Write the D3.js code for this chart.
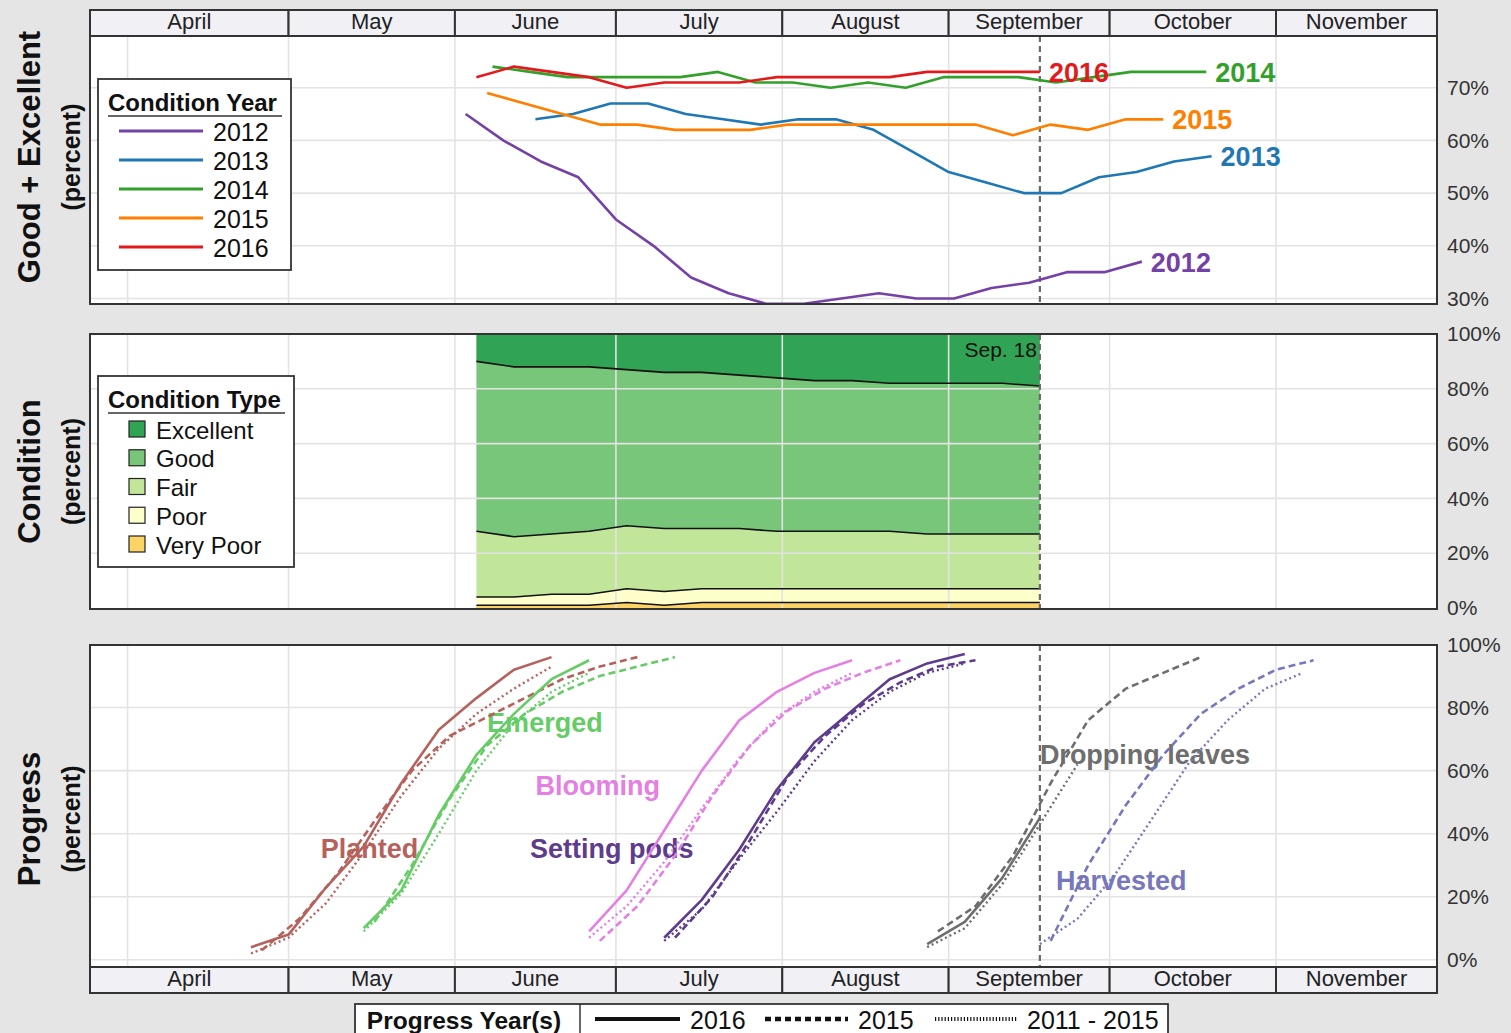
<!DOCTYPE html>
<html>
<head>
<meta charset="utf-8">
<script src="https://cdn.jsdelivr.net/npm/d3@7"></script>
<style>
  body { margin: 0; background: #e5e5e5; }
  svg { display: block; font-family: "Liberation Sans", Arial, Helvetica, sans-serif; }
</style>
</head>
<body>
<svg id="chart" width="1511" height="1033"></svg>
<script>
// ---------------------------------------------------------------------------
// Data
// ---------------------------------------------------------------------------
const monthNames = ["April", "May", "June", "July", "August", "September", "October", "November"];

// Soybean condition, Good + Excellent (%), weekly from the first rating of each year
const conditionYears = ["2012", "2013", "2014", "2015", "2016"];
const conditionStarts = ["2012-06-03", "2013-06-16", "2014-06-08", "2015-06-07", "2016-06-05"];
const ge2012 = [65, 60, 56, 53, 45, 40, 34, 31, 29, 29, 30, 31, 30, 30, 32, 33, 35, 35, 37];
const ge2013 = [64, 65, 67, 67, 65, 64, 63, 64, 64, 62, 58, 54, 52, 50, 50, 53, 54, 56, 57];
const ge2014 = [74, 73, 72, 72, 72, 72, 73, 71, 71, 70, 71, 70, 72, 72, 72, 71, 72, 73, 73, 73];
const ge2015 = [69, 67, 65, 63, 63, 62, 62, 62, 63, 63, 63, 63, 63, 63, 61, 63, 62, 64, 64];
const ge2016 = [72, 74, 73, 72, 70, 71, 71, 71, 72, 72, 72, 72, 73, 73, 73, 73];
const goodExcellent = [ge2012, ge2013, ge2014, ge2015, ge2016];

// 2016 condition breakdown (%), weekly from June 5
const conditionTypes = ["Excellent", "Good", "Fair", "Poor", "Very Poor"];
const condition2016Start = "2016-06-05";
const excellent2016 = [10, 12, 12, 12, 13, 14, 14, 15, 16, 17, 17, 18, 18, 18, 18, 19];
const good2016      = [62, 62, 61, 60, 57, 57, 57, 56, 56, 55, 55, 54, 55, 55, 55, 54];
const fair2016      = [24, 22, 22, 23, 23, 23, 22, 22, 21, 21, 21, 21, 20, 20, 20, 20];
const poor2016      = [3, 3, 4, 4, 5, 5, 5, 5, 5, 5, 5, 5, 5, 5, 5, 5];
const veryPoor2016  = [1, 1, 1, 1, 2, 1, 2, 2, 2, 2, 2, 2, 2, 2, 2, 2];

// Crop progress (% complete), weekly
const stages = ["Planted", "Emerged", "Blooming", "Setting pods", "Dropping leaves", "Harvested"];
const progressYears = ["2016", "2015", "2011 - 2015"];

const progress2016Starts = ["2016-04-24", "2016-05-15", "2016-06-26", "2016-07-10", "2016-08-28", null];
const progress2016 = [
  [4, 8, 23, 36, 56, 73, 83, 92, 96],
  [10, 22, 46, 65, 78, 89, 95],
  [9, 22, 41, 60, 76, 85, 91, 95],
  [7, 19, 35, 54, 69, 79, 89, 94, 97],
  [5, 12, 26, 45],
  []
];

const progress2015Starts = ["2015-04-26", "2015-05-17", "2015-06-28", "2015-07-12", "2015-08-30", "2015-09-20"];
const progress2015 = [
  [3, 13, 27, 44, 60, 71, 77, 83, 89, 93, 96],
  [12, 30, 51, 68, 78, 85, 90, 93, 96],
  [6, 17, 33, 52, 68, 79, 86, 91, 95],
  [7, 20, 38, 58, 71, 81, 88, 93, 95],
  [9, 17, 33, 56, 76, 86, 91, 96],
  [6, 30, 49, 65, 78, 86, 92, 95]
];

const progressAvgStarts = ["2016-04-24", "2016-05-15", "2016-06-26", "2016-07-10", "2016-08-28", "2016-09-18"];
const progressAvg = [
  [2, 7, 18, 34, 52, 67, 78, 86, 93],
  [9, 21, 40, 60, 75, 85, 91],
  [7, 17, 31, 48, 64, 77, 85, 91],
  [6, 16, 32, 47, 63, 76, 85, 91, 94],
  [4, 10, 24, 43, 62],
  [5, 13, 27, 45, 63, 76, 86, 91]
];

const currentWeek = "2016-09-18";
const geTicks = [30, 40, 50, 60, 70];
const pctTicks = [0, 20, 40, 60, 80, 100];

// ---------------------------------------------------------------------------
// Styling
// ---------------------------------------------------------------------------
const yearColors = ["#7442a6", "#1f78b4", "#33a02c", "#ff7f00", "#e31a1c"];
const typeColors = ["#31a354", "#78c679", "#c2e699", "#ffffcc", "#fed366"];
const stageColors = ["#b5625d", "#66cc66", "#e47fe4", "#5e3c8c", "#6e6e6e", "#7777bb"];
const dashFor = ["none", "7,4", "2,3"];

// Stage label anchors (date, percent) for the left edge of each label
const stageLabelAt = [
  ["2016-05-07", 35], ["2016-06-07", 75], ["2016-06-16", 55],
  ["2016-06-15", 35], ["2016-09-18", 65], ["2016-09-21", 25]
];

// ---------------------------------------------------------------------------
// Scales and helpers
// ---------------------------------------------------------------------------
const parse = d3.utcParse("%Y-%m-%d");
const onAxisYear = d => new Date(Date.UTC(2016, d.getUTCMonth(), d.getUTCDate()));
const weekly = (start, values) => values.map((v, i) => ({
  date: onAxisYear(d3.utcDay.offset(parse(start), 7 * i)),
  value: v
}));

const L = 90, R = 1437;
const P1 = { top: 36, bottom: 304, stripTop: 10 };
const P2 = { top: 334, bottom: 609 };
const P3 = { top: 645, bottom: 967, stripBottom: 993 };

const x = d3.scaleUtc()
  .domain([new Date(Date.UTC(2016, 2, 25)), new Date(Date.UTC(2016, 11, 1))])
  .range([L, R]);
const yGE = d3.scaleLinear().domain([28.96, 79.81]).range([P1.bottom, P1.top]);
const yCond = d3.scaleLinear().domain([0, 100]).range([608, P2.top]);
const yProg = d3.scaleLinear().domain([0, 100]).range([959.8, 644.5]);

const monthStarts = d3.utcMonth.range(new Date(Date.UTC(2016, 3, 1)), new Date(Date.UTC(2016, 11, 1)));
const weekLine = parse(currentWeek);

const svg = d3.select("#chart");
const GRID = "#e3e3e3";
const BORDER = "#333";

function panelBg(p) {
  svg.append("rect").attr("x", L).attr("y", p.top).attr("width", R - L).attr("height", p.bottom - p.top)
    .attr("fill", "#fff");
}
function panelBorder(p) {
  svg.append("rect").attr("x", L).attr("y", p.top).attr("width", R - L).attr("height", p.bottom - p.top)
    .attr("fill", "none").attr("stroke", BORDER).attr("stroke-width", 2);
}
function grid(p, y, ticks) {
  const g = svg.append("g");
  g.selectAll("line.v").data(monthStarts).join("line")
    .attr("x1", d => x(d)).attr("x2", d => x(d)).attr("y1", p.top).attr("y2", p.bottom)
    .attr("stroke", GRID).attr("stroke-width", 1.6);
  g.selectAll("line.h").data(ticks).join("line")
    .attr("x1", L).attr("x2", R).attr("y1", d => y(d)).attr("y2", d => y(d))
    .attr("stroke", GRID).attr("stroke-width", 1.6);
}
function rightAxis(y, ticks) {
  const g = svg.append("g").attr("transform", `translate(${R},0)`)
    .call(d3.axisRight(y).tickValues(ticks).tickFormat(d => d + "%").tickSize(0).tickPadding(10));
  g.select(".domain").remove();
  g.selectAll("text").attr("font-size", 21).attr("fill", "#333")
    .attr("font-family", "'Liberation Sans', Arial, sans-serif");
}
function monthStrip(top, bottom) {
  const g = svg.append("g");
  const cells = monthNames.map((m, i) => {
    const s = i === 0 ? x.domain()[0] : monthStarts[i];
    const e = i + 1 < monthStarts.length ? monthStarts[i + 1] : x.domain()[1];
    return { name: m, x0: x(s), x1: x(e) };
  });
  g.selectAll("rect").data(cells).join("rect")
    .attr("x", d => d.x0).attr("y", top).attr("width", d => d.x1 - d.x0).attr("height", bottom - top)
    .attr("fill", "#f0f0f5").attr("stroke", BORDER).attr("stroke-width", 2);
  g.selectAll("text").data(cells).join("text")
    .attr("x", d => (d.x0 + d.x1) / 2).attr("y", (top + bottom) / 2 - 1.5)
    .attr("text-anchor", "middle").attr("dominant-baseline", "central")
    .attr("font-size", 22).attr("fill", "#222").text(d => d.name);
}
function weekMarker(p) {
  svg.append("line").attr("x1", x(weekLine)).attr("x2", x(weekLine))
    .attr("y1", p.top).attr("y2", p.bottom)
    .attr("stroke", "#6b6b6b").attr("stroke-width", 2.2).attr("stroke-dasharray", "6,4");
}
function yTitle(main, cy) {
  svg.append("text").attr("transform", `translate(29,${cy}) rotate(-90)`)
    .attr("text-anchor", "middle").attr("dominant-baseline", "central")
    .attr("font-size", 31).attr("font-weight", "bold").attr("fill", "#111").text(main);
  svg.append("text").attr("transform", `translate(71,${cy}) rotate(-90)`)
    .attr("text-anchor", "middle").attr("dominant-baseline", "central")
    .attr("font-size", 25).attr("font-weight", "bold").attr("fill", "#111").text("(percent)");
}

// ---------------------------------------------------------------------------
// Panel 1: Good + Excellent by year
// ---------------------------------------------------------------------------
monthStrip(P1.stripTop, P1.top);
panelBg(P1);
grid(P1, yGE, geTicks);
weekMarker(P1);

const lineGE = d3.line().x(d => x(d.date)).y(d => yGE(d.value));
conditionYears.forEach((yr, i) => {
  const pts = weekly(conditionStarts[i], goodExcellent[i]);
  svg.append("path").datum(pts).attr("d", lineGE)
    .attr("fill", "none").attr("stroke", yearColors[i]).attr("stroke-width", 2.6)
    .attr("stroke-linejoin", "round");
  const last = pts[pts.length - 1];
  svg.append("text").attr("x", x(last.date) + 9).attr("y", yGE(last.value) + 1)
    .attr("dominant-baseline", "central").attr("font-size", 27).attr("font-weight", "bold")
    .attr("fill", yearColors[i]).text(yr);
});
panelBorder(P1);
rightAxis(yGE, geTicks);
yTitle("Good + Excellent", 157);

// Legend: condition year
{
  const g = svg.append("g");
  g.append("rect").attr("x", 98).attr("y", 79).attr("width", 193).attr("height", 191)
    .attr("fill", "#fff").attr("stroke", BORDER).attr("stroke-width", 1.8);
  g.append("text").attr("x", 108).attr("y", 102).attr("dominant-baseline", "central")
    .attr("font-size", 24).attr("font-weight", "bold").attr("fill", "#111").text("Condition Year");
  g.append("line").attr("x1", 108).attr("x2", 282).attr("y1", 116).attr("y2", 116)
    .attr("stroke", BORDER).attr("stroke-width", 1.5);
  conditionYears.forEach((yr, i) => {
    const cy = 131 + i * 29;
    g.append("line").attr("x1", 119).attr("x2", 203).attr("y1", cy).attr("y2", cy)
      .attr("stroke", yearColors[i]).attr("stroke-width", 3);
    g.append("text").attr("x", 213).attr("y", cy + 1).attr("dominant-baseline", "central")
      .attr("font-size", 25).attr("fill", "#111").text(yr);
  });
}

// ---------------------------------------------------------------------------
// Panel 2: 2016 condition breakdown (stacked)
// ---------------------------------------------------------------------------
panelBg(P2);
const condRows = excellent2016.map((_, i) => ({
  date: onAxisYear(d3.utcDay.offset(parse(condition2016Start), 7 * i)),
  "Very Poor": veryPoor2016[i], "Poor": poor2016[i], "Fair": fair2016[i],
  "Good": good2016[i], "Excellent": excellent2016[i]
}));
const stackKeys = conditionTypes.slice().reverse();
const layers = d3.stack().keys(stackKeys)(condRows);
const areaGen = d3.area().x(d => x(d.data.date)).y0(d => yCond(d[0])).y1(d => yCond(d[1]));
svg.append("g").selectAll("path").data(layers).join("path")
  .attr("d", areaGen)
  .attr("fill", d => typeColors[conditionTypes.indexOf(d.key)]);
grid(P2, yCond, [20, 40, 60, 80]);
const edgeGen = d3.line().x(d => x(d.data.date)).y(d => yCond(d[1]));
svg.append("g").selectAll("path").data(layers.slice(0, -1)).join("path")
  .attr("d", edgeGen).attr("fill", "none").attr("stroke", "#111").attr("stroke-width", 1.6);
weekMarker(P2);
svg.append("text").attr("x", x(weekLine) - 3).attr("y", 349).attr("text-anchor", "end")
  .attr("dominant-baseline", "central").attr("font-size", 21).attr("fill", "#111").text("Sep. 18");
panelBorder(P2);
rightAxis(yCond, pctTicks);
yTitle("Condition", 471.5);

// Legend: condition type
{
  const g = svg.append("g");
  g.append("rect").attr("x", 98).attr("y", 376).attr("width", 196).attr("height", 191)
    .attr("fill", "#fff").attr("stroke", BORDER).attr("stroke-width", 1.8);
  g.append("text").attr("x", 108).attr("y", 399).attr("dominant-baseline", "central")
    .attr("font-size", 24).attr("font-weight", "bold").attr("fill", "#111").text("Condition Type");
  g.append("line").attr("x1", 108).attr("x2", 285).attr("y1", 413).attr("y2", 413)
    .attr("stroke", BORDER).attr("stroke-width", 1.5);
  conditionTypes.forEach((t, i) => {
    const cy = 429 + i * 28.75;
    g.append("rect").attr("x", 129).attr("y", cy - 8).attr("width", 16).attr("height", 16)
      .attr("fill", typeColors[i]).attr("stroke", "#222").attr("stroke-width", 1.2);
    g.append("text").attr("x", 156).attr("y", cy + 1).attr("dominant-baseline", "central")
      .attr("font-size", 24).attr("fill", "#111").text(t);
  });
}

// ---------------------------------------------------------------------------
// Panel 3: crop progress
// ---------------------------------------------------------------------------
panelBg(P3);
grid(P3, yProg, [0, 20, 40, 60, 80]);
weekMarker(P3);

stages.forEach((s, i) => {
  svg.append("text").attr("x", x(parse(stageLabelAt[i][0]))).attr("y", yProg(stageLabelAt[i][1]))
    .attr("dominant-baseline", "central").attr("font-size", 27).attr("font-weight", "bold")
    .attr("fill", stageColors[i]).text(s);
});

const lineProg = d3.line().x(d => x(d.date)).y(d => yProg(d.value));
const progressSets = [
  [progress2016Starts, progress2016],
  [progress2015Starts, progress2015],
  [progressAvgStarts, progressAvg]
];
stages.forEach((s, i) => {
  [2, 1, 0].forEach(k => {
    const [starts, vals] = progressSets[k];
    if (!starts[i] || vals[i].length === 0) return;
    svg.append("path").datum(weekly(starts[i], vals[i])).attr("d", lineProg)
      .attr("fill", "none").attr("stroke", stageColors[i])
      .attr("stroke-width", k === 2 ? 2.4 : 2.6)
      .attr("stroke-dasharray", dashFor[k]).attr("stroke-linejoin", "round");
  });
});
panelBorder(P3);
rightAxis(yProg, pctTicks);
monthStrip(P3.bottom, P3.stripBottom);
yTitle("Progress", 819);

// Legend: progress year(s)
{
  const g = svg.append("g");
  const top = 1004, cy = 1020;
  g.append("rect").attr("x", 355).attr("y", top).attr("width", 813).attr("height", 44)
    .attr("fill", "#fff").attr("stroke", BORDER).attr("stroke-width", 1.8);
  g.append("line").attr("x1", 580).attr("x2", 580).attr("y1", top).attr("y2", top + 44)
    .attr("stroke", BORDER).attr("stroke-width", 1.5);
  g.append("text").attr("x", 464).attr("y", cy).attr("text-anchor", "middle")
    .attr("dominant-baseline", "central").attr("font-size", 24.5).attr("font-weight", "bold")
    .attr("fill", "#111").text("Progress Year(s)");
  const items = [
    { x0: 595, x1: 680, tx: 690, dash: "none", w: 4 },
    { x0: 765, x1: 848, tx: 858, dash: "6,4", w: 4.5 },
    { x0: 935, x1: 1017, tx: 1027, dash: "1.2,2", w: 4 }
  ];
  items.forEach((it, i) => {
    g.append("line").attr("x1", it.x0).attr("x2", it.x1).attr("y1", cy - 1).attr("y2", cy - 1)
      .attr("stroke", "#111").attr("stroke-width", it.w).attr("stroke-dasharray", it.dash);
    g.append("text").attr("x", it.tx).attr("y", cy).attr("dominant-baseline", "central")
      .attr("font-size", 25).attr("fill", "#111").text(progressYears[i]);
  });
}
</script>
</body>
</html>
